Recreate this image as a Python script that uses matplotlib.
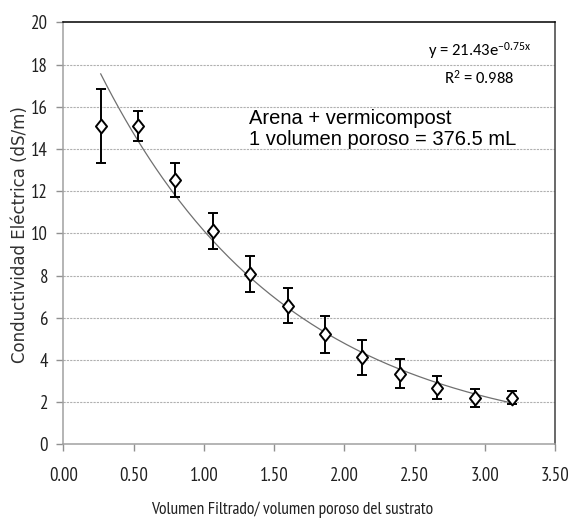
import numpy as np
import matplotlib
matplotlib.use("Agg")
import matplotlib.pyplot as plt
from matplotlib.path import Path

# datos
vol = [0.266, 0.532, 0.798, 1.064, 1.33, 1.596, 1.862, 2.128, 2.394, 2.66, 2.926, 3.192]
ce = [15.08, 15.08, 12.53, 10.11, 8.07, 6.57, 5.21, 4.12, 3.35, 2.68, 2.19, 2.21]
err = [1.75, 0.70, 0.80, 0.86, 0.87, 0.83, 0.88, 0.82, 0.69, 0.55, 0.44, 0.30]
a_fit = 21.43
b_fit = -0.75

x_ticks = [0.0, 0.5, 1.0, 1.5, 2.0, 2.5, 3.0, 3.5]
y_ticks = [0, 2, 4, 6, 8, 10, 12, 14, 16, 18, 20]

angosta = ['PT Sans Narrow', 'Carlito', 'DejaVu Sans']
plt.rcParams['font.family'] = ['Carlito', 'DejaVu Sans']
plt.rcParams['mathtext.fontset'] = 'custom'
plt.rcParams['mathtext.rm'] = 'Carlito'
plt.rcParams['mathtext.default'] = 'regular'

# rombo un poco mas ancho que 'd'
rombo = Path([(0, 1), (0.8, 0), (0, -1), (-0.8, 0), (0, 1)],
             [Path.MOVETO, Path.LINETO, Path.LINETO, Path.LINETO, Path.CLOSEPOLY])

fig = plt.figure(figsize=(5.71, 5.26), dpi=100)
ax = fig.add_axes([0.1109, 0.1553, 0.8616, 0.8023])

# linea de tendencia exponencial
xt = np.linspace(vol[0], vol[-1], 200)
ax.plot(xt, a_fit * np.exp(b_fit * xt), color='#707070', lw=0.9, zorder=2)

ax.errorbar(vol, ce, yerr=err, fmt='none', ecolor='black', elinewidth=1.4,
            capsize=3.5, capthick=1.4, zorder=3)
ax.plot(vol, ce, ls='none', marker=rombo, ms=10, mfc='white', mec='black',
        mew=1.4, zorder=4)

ax.set_xlim(0, 3.5)
ax.set_ylim(0, 20)
ax.set_xticks(x_ticks)
ax.set_xticklabels([f"{v:.2f}" for v in x_ticks])
ax.set_yticks(y_ticks)
for lbl in ax.get_xticklabels() + ax.get_yticklabels():
    lbl.set_family(angosta)
for yv in y_ticks[1:-1]:
    ax.axhline(yv, color='#b0b0b0', lw=0.8, ls=(0, (2, 1)), zorder=1)

ax.tick_params(axis='both', colors='#909090', labelcolor='#202020', labelsize=13.5,
               length=5, width=1)
ax.tick_params(axis='x', pad=11)
ax.tick_params(axis='y', pad=6)
ax.spines['left'].set_color('#a0a0a0')
ax.spines['bottom'].set_color('#a0a0a0')
ax.spines['top'].set_color('black')
ax.spines['right'].set_color('#404040')
for s in ax.spines.values():
    s.set_linewidth(1.1)

fig.text(0.035, 0.555, 'Conductividad Eléctrica (dS/m)', rotation=90, ha='center',
         va='center', fontsize=12, family='DejaVu Sans', color='#303030')
fig.text(0.511, 0.031, 'Volumen Filtrado/ volumen poroso del sustrato', ha='center',
         va='center', fontsize=12.5, family=angosta, color='#202020')

ax.text(0.845, 0.932, 'y = 21.43e$^{-0.75x}$', transform=ax.transAxes, ha='center',
        va='center', fontsize=12)
ax.text(0.845, 0.868, 'R$^2$ = 0.988', transform=ax.transAxes, ha='center',
        va='center', fontsize=12)

ax.text(1.32, 14.95, 'Arena + vermicompost\n1 volumen poroso = 376.5 mL',
        family='Liberation Sans', fontsize=14.5, va='center', ha='left', linespacing=1.1)

fig.savefig('out.png', dpi=100)
